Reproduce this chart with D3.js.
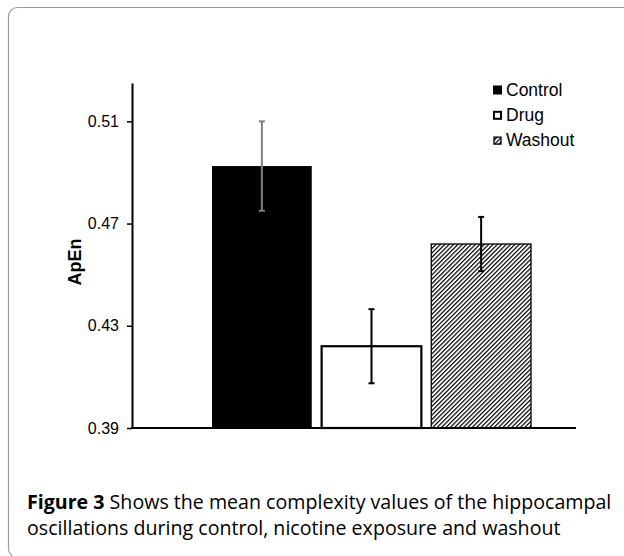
<!DOCTYPE html>
<html>
<head>
<meta charset="utf-8">
<script src="https://cdn.jsdelivr.net/npm/d3@7"></script>
<style>
  body { margin: 0; background: #fff; }
  svg { display: block; }
</style>
</head>
<body>
<svg id="chart" width="624" height="556"></svg>
<script>
// data
var categories = ["Control", "Drug", "Washout"];
var means = [0.4925, 0.4220, 0.4620];
var errors = [0.0175, 0.0145, 0.0106];
var yTicks = [0.39, 0.43, 0.47, 0.51];
var captionBold = "Figure 3";
var captionLines = [
    " Shows the mean complexity values of the hippocampal",
    "oscillations during control, nicotine exposure and washout"
];

var svg = d3.select("#chart");

// hatch for washout
var defs = svg.append("defs");
defs.append("pattern")
    .attr("id", "hatch")
    .attr("patternUnits", "userSpaceOnUse")
    .attr("width", 3.1).attr("height", 3.1)
    .attr("patternTransform", "rotate(45)")
    .append("rect")
    .attr("x", 0).attr("y", 0)
    .attr("width", 1.2).attr("height", 3.1)
    .attr("fill", "#000");

// frame
svg.append("rect")
    .attr("x", 8.5).attr("y", 7.5)
    .attr("width", 700).attr("height", 550)
    .attr("rx", 9)
    .attr("fill", "none")
    .attr("stroke", "#9a9a9a")
    .attr("stroke-width", 1.2);

var y = d3.scaleLinear().domain([0.39, 0.525]).range([428, 83]);
var x = d3.scaleBand().domain(categories).range([212, 531]).paddingInner(0.09);

var fills = {Control: "#000", Drug: "#fff", Washout: "url(#hatch)"};
var errColor = {Control: "#808080", Drug: "#000", Washout: "#000"};

// bars
svg.selectAll(".bar")
    .data(categories)
    .enter().append("rect")
    .attr("class", "bar")
    .attr("x", function (d) { return x(d); })
    .attr("width", x.bandwidth())
    .attr("y", function (d, i) { return y(means[i]); })
    .attr("height", function (d, i) { return y(0.39) - y(means[i]); })
    .attr("fill", function (d) { return fills[d]; })
    .attr("stroke", function (d) { return d == "Control" ? "none" : "#000"; })
    .attr("stroke-width", function (d) { return d == "Drug" ? 2.2 : 1.3; });

// error bars
var eb = svg.selectAll(".err")
    .data(categories)
    .enter().append("g")
    .attr("class", "err")
    .attr("stroke", function (d) { return errColor[d]; })
    .attr("stroke-width", 2);

eb.append("line")
    .attr("x1", function (d) { return x(d) + x.bandwidth() / 2; })
    .attr("x2", function (d) { return x(d) + x.bandwidth() / 2; })
    .attr("y1", function (d, i) { return y(means[i] + errors[i]); })
    .attr("y2", function (d, i) { return y(means[i] - errors[i]); });

[1, -1].forEach(function (s) {
    eb.append("line")
        .attr("x1", function (d) { return x(d) + x.bandwidth() / 2 - 3; })
        .attr("x2", function (d) { return x(d) + x.bandwidth() / 2 + 3; })
        .attr("y1", function (d, i) { return y(means[i] + s * errors[i]); })
        .attr("y2", function (d, i) { return y(means[i] + s * errors[i]); });
});

// y axis
var yAxis = svg.append("g")
    .attr("transform", "translate(132,0)")
    .call(d3.axisLeft(y).tickValues(yTicks).tickSize(5).tickSizeOuter(0)
        .tickFormat(d3.format(".2f")));
yAxis.select(".domain").attr("stroke", "#000").attr("stroke-width", 2);
yAxis.selectAll(".tick line").attr("stroke", "#000").attr("stroke-width", 1.5);
yAxis.selectAll(".tick text")
    .attr("x", -13)
    .attr("fill", "#000")
    .style("font-family", "Arial, 'Liberation Sans', sans-serif")
    .style("font-size", "16px");

// x axis line
svg.append("line")
    .attr("x1", 131).attr("x2", 576)
    .attr("y1", y(0.39)).attr("y2", y(0.39))
    .attr("stroke", "#000").attr("stroke-width", 2);

// y title
svg.append("text")
    .attr("transform", "translate(81," + 262 + ") rotate(-90)")
    .attr("text-anchor", "middle")
    .style("font-family", "Arial, 'Liberation Sans', sans-serif")
    .style("font-size", "18px")
    .style("font-weight", "bold")
    .text("ApEn");

// legend
var lg = svg.selectAll(".lg")
    .data(categories)
    .enter().append("g")
    .attr("class", "lg")
    .attr("transform", function (d, i) { return "translate(493," + (85.5 + i * 25.3) + ")"; });

lg.append("rect")
    .attr("x", function (d) { return d == "Control" ? 0 : 1; })
    .attr("y", function (d) { return d == "Control" ? 0 : 1; })
    .attr("width", function (d) { return d == "Control" ? 9 : 7; })
    .attr("height", function (d) { return d == "Control" ? 9 : 7; })
    .attr("fill", function (d) { return fills[d]; })
    .attr("stroke", function (d) { return d == "Control" ? "none" : "#000"; })
    .attr("stroke-width", function (d) { return d == "Drug" ? 2 : 1.3; });

lg.append("text")
    .attr("x", 13)
    .attr("y", 10)
    .style("font-family", "Arial, 'Liberation Sans', sans-serif")
    .style("font-size", "17.5px")
    .text(function (d) { return d; });

// caption
var cap = svg.append("g")
    .style("font-family", "'Open Sans', 'Noto Sans', sans-serif")
    .style("font-size", "16px")
    .style("font-weight", "500")
    .attr("fill", "#000");

var t1 = cap.append("text").attr("x", 27).attr("y", 509);
t1.append("tspan").style("font-weight", "bold").text(captionBold);
t1.append("tspan").text(captionLines[0]);
cap.append("text").attr("x", 27).attr("y", 535).text(captionLines[1]);

// fit the caption to the width of the original line
var w = t1.node().getComputedTextLength();
cap.style("font-size", (16 * 585 / w).toFixed(2) + "px");
</script>
</body>
</html>
